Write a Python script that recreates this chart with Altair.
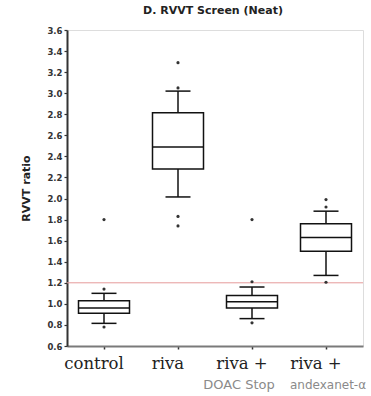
import json
import altair as alt
import pandas as pd

# ---- data ----
groups = ["control", "riva", "riva_doac", "riva_andexanet"]
label_line1 = ["control", "riva", "riva +", "riva +"]
label_line2 = ["", "", "DOAC Stop", "andexanet-α"]
label_line2_dx = [0, 0, -13, 2]

q1 = [0.91, 2.28, 0.96, 1.50]
median = [0.96, 2.49, 1.02, 1.63]
q3 = [1.03, 2.815, 1.08, 1.76]
whisker_lo = [0.815, 2.015, 0.86, 1.27]
whisker_hi = [1.10, 3.02, 1.16, 1.88]

outlier_group = ["control", "control", "control",
                 "riva", "riva", "riva", "riva",
                 "riva_doac", "riva_doac", "riva_doac",
                 "riva_andexanet", "riva_andexanet", "riva_andexanet"]
outlier_value = [0.78, 1.14, 1.80,
                 3.29, 3.05, 1.83, 1.74,
                 1.21, 0.82, 1.80,
                 1.99, 1.92, 1.205]

reference_value = 1.2
y_ticks = [round(0.6 + 0.2 * i, 1) for i in range(16)]

# ---- tables ----
boxes = pd.DataFrame({"group": groups, "q1": q1, "median": median, "q3": q3,
                      "lo": whisker_lo, "hi": whisker_hi})
points = pd.DataFrame({"group": outlier_group, "value": outlier_value})

W, H = 296, 316
label_map = json.dumps(dict(zip(groups, label_line1)))

x_scale = alt.Scale(domain=groups, paddingInner=0, paddingOuter=0)
x_enc = alt.X(
    "group:N", scale=x_scale, sort=groups, title=None,
    axis=alt.Axis(
        labelExpr=f"{label_map}[datum.value]",
        labelAngle=0, labelFont="DejaVu Serif", labelFontSize=16.5,
        labelColor="#222", labelOffset=-10, labelPadding=6,
        domainColor="#7a7a7a", domainWidth=2,
        tickColor="#333", tickSize=3, tickWidth=1.5,
    ),
)
y_scale = alt.Scale(domain=[0.6, 3.6], nice=False, zero=False)
y_axis = alt.Axis(
    values=y_ticks, format=".1f", title="RVVT ratio", labelOverlap=False,
    labelFont="DejaVu Sans", labelFontWeight="bold", labelFontSize=8.5,
    labelColor="#333", labelPadding=2,
    domainColor="#333", domainWidth=2,
    tickColor="#333", tickSize=3, tickWidth=1.2,
    titleFont="DejaVu Sans", titleFontWeight="bold", titleFontSize=11,
    titleColor="#222", titlePadding=15, grid=False,
)

base = alt.Chart(boxes)

ref = alt.Chart(pd.DataFrame({"v": [reference_value]})).mark_rule(
    color="#e59a9a", strokeWidth=1
).encode(y=alt.Y("v:Q", scale=y_scale, axis=y_axis))

whisk_lo = base.mark_rule(color="#111", strokeWidth=1.5).encode(
    x=x_enc, y=alt.Y("lo:Q", scale=y_scale, axis=y_axis), y2="q1:Q")
whisk_hi = base.mark_rule(color="#111", strokeWidth=1.5).encode(
    x=x_enc, y=alt.Y("q3:Q", scale=y_scale, axis=y_axis), y2="hi:Q")

box = base.mark_bar(width=51, fill="white", stroke="#111", strokeWidth=1.5,
                    opacity=1).encode(
    x=x_enc, y=alt.Y("q1:Q", scale=y_scale, axis=y_axis), y2="q3:Q")

med = base.mark_tick(size=51, thickness=1.5, color="#111", opacity=1).encode(
    x=x_enc, y=alt.Y("median:Q", scale=y_scale, axis=y_axis))
cap_lo = base.mark_tick(size=25, thickness=1.5, color="#111", opacity=1).encode(
    x=x_enc, y=alt.Y("lo:Q", scale=y_scale, axis=y_axis))
cap_hi = base.mark_tick(size=25, thickness=1.5, color="#111", opacity=1).encode(
    x=x_enc, y=alt.Y("hi:Q", scale=y_scale, axis=y_axis))

dots = alt.Chart(points).mark_circle(size=10, color="#333", opacity=1).encode(
    x=x_enc, y=alt.Y("value:Q", scale=y_scale, axis=y_axis))

sub_layers = []
for g, txt, dx in zip(groups, label_line2, label_line2_dx):
    if not txt:
        continue
    sub_layers.append(
        alt.Chart(pd.DataFrame({"group": [g], "txt": [txt]})).mark_text(
            font="DejaVu Sans", fontSize=13 if txt.startswith("D") else 12,
            color="#8a8a8a", baseline="alphabetic", dx=dx,
        ).encode(x=x_enc, y=alt.value(H + 43), text="txt:N")
    )

chart = alt.layer(ref, whisk_lo, whisk_hi, box, med, cap_lo, cap_hi, dots,
                  *sub_layers).properties(
    width=W, height=H,
    title=alt.TitleParams("D. RVVT Screen (Neat)", font="DejaVu Sans",
                          fontSize=11, fontWeight="bold", color="#222",
                          offset=10, dx=-2),
    autosize=alt.AutoSizeParams(type="none"),
    padding={"left": 67, "top": 30, "right": 8, "bottom": 50},
).configure_view(stroke=None).configure(background="white")

chart.save("out.html", embed_options={"renderer": "svg", "actions": False})
